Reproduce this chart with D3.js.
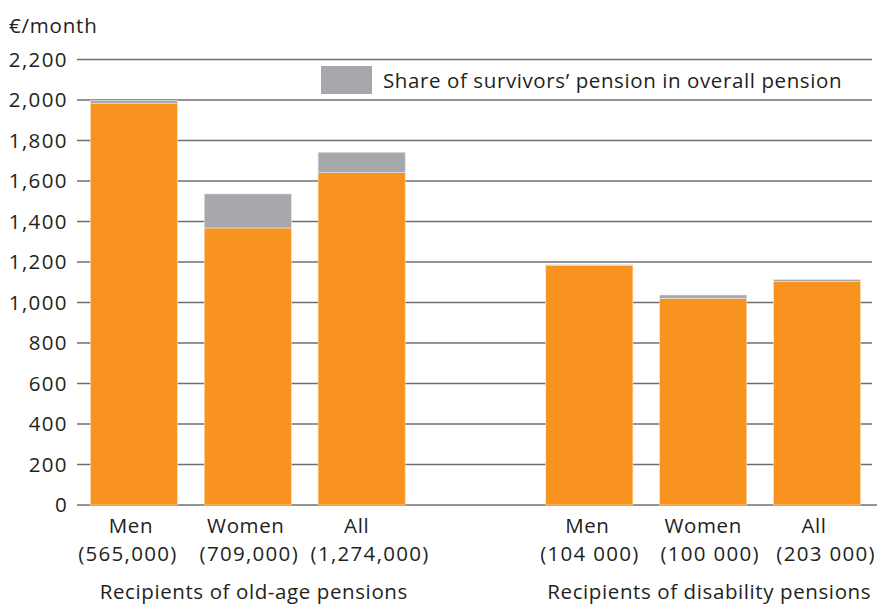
<!DOCTYPE html>
<html>
<head>
<meta charset="utf-8">
<script src="https://cdn.jsdelivr.net/npm/d3@7"></script>
<style>
  html, body { margin: 0; padding: 0; background: #fff; }
  svg { display: block; }
  text { font-family: "Open Sans", "Noto Sans", sans-serif; fill: #231f20; }
</style>
</head>
<body>
<svg id="chart" width="877" height="605"></svg>
<script>
// ---- data ----
const categories = ["Men", "Women", "All", "Men", "Women", "All"];
const recipientCounts = ["(565,000)", "(709,000)", "(1,274,000)", "(104 000)", "(100 000)", "(203 000)"];
const groupOf = [0, 0, 0, 1, 1, 1];
const groupTitles = ["Recipients of old-age pensions", "Recipients of disability pensions"];
const ownPension = [1982, 1368, 1641, 1183, 1021, 1103];
const survivorsPension = [16, 168, 101, 3, 16, 10];
const yTicks = [0, 200, 400, 600, 800, 1000, 1200, 1400, 1600, 1800, 2000, 2200];
const legendLabel = "Share of survivors\u2019 pension in overall pension";
const yUnit = "\u20ac/month";

// ---- layout ----
const svg = d3.select("#chart");
const ORANGE = "#f7931e", GREY = "#a7a8ab", GRID = "#6f6f6f";
const FS = 20.5;
const slots = ["s0", "s1", "s2", "gap", "s3", "s4", "s5"];
const slotOf = i => "s" + i;
// small horizontal nudges of the label lines, as in the original typesetting
const nameNudge = [-3, -2, -5, -2, 0, -3];
const countNudge = [-6, 1.5, 8.5, 0.5, 7, 9];

const x = d3.scaleBand().domain(slots).range([77, 874]).paddingInner(0.235).paddingOuter(0.1175);
const y = d3.scaleLinear().domain([0, 2200]).range([505, 59.5]);

// gridlines
svg.append("g").selectAll("line").data(yTicks).join("line")
  .attr("x1", 77).attr("x2", d => d === 0 ? 877 : 872)
  .attr("y1", d => y(d)).attr("y2", d => y(d))
  .attr("stroke", GRID).attr("stroke-width", 1.3);

// y axis labels
const yFmt = d3.format(",");
svg.append("g").selectAll("text").data(yTicks).join("text")
  .attr("x", 68).attr("y", d => y(d)).attr("dy", "0.35em")
  .attr("text-anchor", "end").attr("font-size", FS)
  .attr("letter-spacing", 1.4)
  .text(d => yFmt(d));

svg.append("text").attr("x", 9).attr("y", 33).attr("font-size", FS)
  .attr("letter-spacing", 0.8).text(yUnit);

// bars
const bars = svg.append("g");
categories.forEach((c, i) => {
  const x0 = x(slotOf(i));
  bars.append("rect")
    .attr("x", x0).attr("width", x.bandwidth())
    .attr("y", y(ownPension[i])).attr("height", y(0) - y(ownPension[i]))
    .attr("fill", ORANGE).attr("stroke", "#fde3c2").attr("stroke-width", 0.6);
  const top = ownPension[i] + survivorsPension[i];
  bars.append("rect")
    .attr("x", x0).attr("width", x.bandwidth())
    .attr("y", y(top)).attr("height", y(ownPension[i]) - y(top))
    .attr("fill", GREY).attr("stroke", "#e6e6e6").attr("stroke-width", 0.6);
});

// category labels
const lab = svg.append("g").attr("font-size", FS).attr("text-anchor", "middle");
categories.forEach((c, i) => {
  const cx = x(slotOf(i)) + x.bandwidth() / 2;
  lab.append("text").attr("x", cx + nameNudge[i]).attr("y", 533).attr("letter-spacing", 0.6).text(c);
  lab.append("text").attr("x", cx + countNudge[i]).attr("y", 561).attr("letter-spacing", 1.3).text(recipientCounts[i]);
});

// group titles
groupTitles.forEach((t, g) => {
  const idx = groupOf.map((v, i) => v === g ? i : -1).filter(i => i >= 0);
  const left = x(slotOf(idx[0]));
  const right = x(slotOf(idx[idx.length - 1])) + x.bandwidth();
  svg.append("text").attr("x", (left + right) / 2 + 6).attr("y", 599)
    .attr("text-anchor", "middle").attr("font-size", FS).attr("letter-spacing", 0.6).text(t);
});

// legend
svg.append("rect").attr("x", 321).attr("y", 66).attr("width", 51).attr("height", 28).attr("fill", GREY);
svg.append("text").attr("x", 383).attr("y", 88).attr("font-size", FS).attr("letter-spacing", 0.6).text(legendLabel);
</script>
</body>
</html>
